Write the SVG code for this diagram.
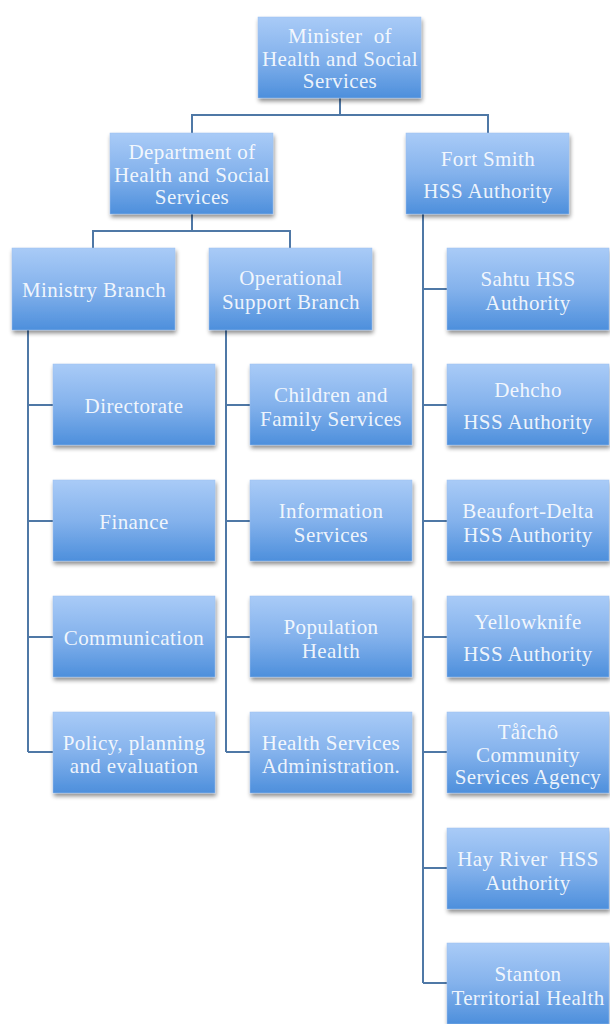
<svg xmlns="http://www.w3.org/2000/svg" width="610" height="1024" viewBox="0 0 610 1024">
<defs>
<linearGradient id="g" x1="0" y1="0" x2="0" y2="1">
<stop offset="0" stop-color="#a9cbf7"/>
<stop offset="0.5" stop-color="#84b2ec"/>
<stop offset="1" stop-color="#4d8fdc"/>
</linearGradient>
<filter id="sh" x="-10%" y="-10%" width="125%" height="135%">
<feGaussianBlur in="SourceAlpha" stdDeviation="2"/>
<feOffset dx="1" dy="3" result="b"/>
<feComponentTransfer><feFuncA type="linear" slope="0.45"/></feComponentTransfer>
<feMerge><feMergeNode/><feMergeNode in="SourceGraphic"/></feMerge>
</filter>
</defs>
<style>
.box{fill:url(#g);stroke:#9cc0ee;stroke-width:0.5;filter:url(#sh)}
.t{font-family:"Liberation Serif","DejaVu Serif",serif;font-size:21px;letter-spacing:0.4px;fill:#ffffff;fill-opacity:0.9;text-anchor:middle;white-space:pre}
.c{fill:none;stroke:#4f78a6;stroke-width:2}
</style>
<rect width="610" height="1024" fill="#ffffff"/>
<g id="connectors">
<path class="c" d="M340 98V115M192 133V115H488V133"/>
<path class="c" d="M192 214V231M93 248V231H290V248"/>
<path class="c" d="M28 330V752M28 405H53M28 521H53M28 637H53M28 752H53"/>
<path class="c" d="M226 330V752M226 405H250M226 521H250M226 637H250M226 752H250"/>
<path class="c" d="M423 214V983M423 289H447M423 405H447M423 521H447M423 637H447M423 752H447M423 868H447M423 983H447"/>
</g>
<g id="minister"><rect class="box" x="258" y="17" width="163" height="81"/>
<text class="t" x="340" y="43">Minister  of</text><text class="t" x="340" y="66">Health and Social</text><text class="t" x="340" y="88">Services</text></g>
<g id="dept"><rect class="box" x="110" y="133" width="163" height="81"/>
<text class="t" x="192" y="159">Department of</text><text class="t" x="192" y="182">Health and Social</text><text class="t" x="192" y="204">Services</text></g>
<g id="fortsmith"><rect class="box" x="406" y="133" width="163" height="81"/>
<text class="t" x="488" y="166">Fort Smith</text><text class="t" x="488" y="198">HSS Authority</text></g>
<g id="ministry"><rect class="box" x="12" y="248" width="163" height="82"/>
<text class="t" x="94" y="297">Ministry Branch</text></g>
<g id="operational"><rect class="box" x="209" y="248" width="163" height="82"/>
<text class="t" x="291" y="285">Operational</text><text class="t" x="291" y="309">Support Branch</text></g>
<g id="directorate"><rect class="box" x="53" y="364" width="162" height="81"/>
<text class="t" x="134" y="413">Directorate</text></g>
<g id="finance"><rect class="box" x="53" y="480" width="162" height="81"/>
<text class="t" x="134" y="529">Finance</text></g>
<g id="communication"><rect class="box" x="53" y="596" width="162" height="81"/>
<text class="t" x="134" y="645">Communication</text></g>
<g id="policy"><rect class="box" x="53" y="712" width="162" height="81"/>
<text class="t" x="134" y="750">Policy, planning</text><text class="t" x="134" y="773">and evaluation</text></g>
<g id="children"><rect class="box" x="250" y="364" width="162" height="81"/>
<text class="t" x="331" y="402">Children and</text><text class="t" x="331" y="426">Family Services</text></g>
<g id="information"><rect class="box" x="250" y="480" width="162" height="81"/>
<text class="t" x="331" y="518">Information</text><text class="t" x="331" y="542">Services</text></g>
<g id="population"><rect class="box" x="250" y="596" width="162" height="81"/>
<text class="t" x="331" y="634">Population</text><text class="t" x="331" y="658">Health</text></g>
<g id="hsadmin"><rect class="box" x="250" y="712" width="162" height="81"/>
<text class="t" x="331" y="750">Health Services</text><text class="t" x="331" y="773">Administration.</text></g>
<g id="sahtu"><rect class="box" x="447" y="248" width="162" height="82"/>
<text class="t" x="528" y="286">Sahtu HSS</text><text class="t" x="528" y="310">Authority</text></g>
<g id="dehcho"><rect class="box" x="447" y="364" width="162" height="81"/>
<text class="t" x="528" y="397">Dehcho</text><text class="t" x="528" y="429">HSS Authority</text></g>
<g id="beaufort"><rect class="box" x="447" y="480" width="162" height="81"/>
<text class="t" x="528" y="518">Beaufort-Delta</text><text class="t" x="528" y="542">HSS Authority</text></g>
<g id="yellowknife"><rect class="box" x="447" y="596" width="162" height="81"/>
<text class="t" x="528" y="629">Yellowknife</text><text class="t" x="528" y="661">HSS Authority</text></g>
<g id="tlicho"><rect class="box" x="447" y="712" width="162" height="81"/>
<text class="t" x="528" y="739">Tåîchô</text><text class="t" x="528" y="762">Community</text><text class="t" x="528" y="784">Services Agency</text></g>
<g id="hayriver"><rect class="box" x="447" y="828" width="162" height="81"/>
<text class="t" x="528" y="866">Hay River  HSS</text><text class="t" x="528" y="890">Authority</text></g>
<g id="stanton"><rect class="box" x="447" y="943" width="162" height="81"/>
<text class="t" x="528" y="981">Stanton</text><text class="t" x="528" y="1005">Territorial Health</text></g>
</svg>
